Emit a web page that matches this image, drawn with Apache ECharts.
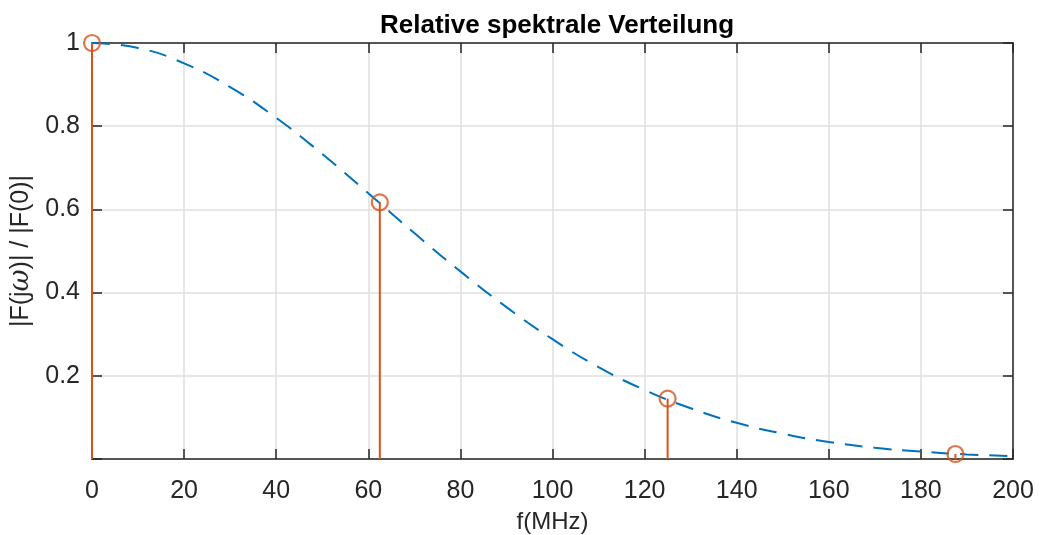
<!DOCTYPE html>
<html>
<head>
<meta charset="utf-8">
<script src="https://cdn.jsdelivr.net/npm/echarts@6/dist/echarts.min.js"></script>
<style>
html, body { margin: 0; padding: 0; background: #fff; }
#chart { width: 1040px; height: 535px; }
</style>
</head>
<body>
<div id="chart"></div>
<script>
// Frequenzen (MHz) und Werte der gestrichelten Kurve
var curveF = [0, 10, 20, 30, 40, 50, 60, 70, 80, 90, 100, 110, 120, 130, 140, 150, 160, 170, 180, 190, 200];
var curveV = [1.000, 0.988, 0.951, 0.894, 0.820, 0.733, 0.639, 0.543, 0.451, 0.365, 0.288, 0.221, 0.166, 0.122, 0.087, 0.061, 0.041, 0.027, 0.018, 0.011, 0.007];
// Spektrallinien (stem)
var stemF = [0, 62.5, 125, 187.5];
var stemV = [1.000, 0.617, 0.145, 0.012];
var yTicks = [0.2, 0.4, 0.6, 0.8, 1];

var chart = echarts.init(document.getElementById('chart'));

var curveData = [];
for (var i = 0; i < curveF.length; i++) {
	curveData.push([curveF[i], curveV[i]]);
}
var stemData = [];
for (var j = 0; j < stemF.length; j++) {
	stemData.push([stemF[j], stemV[j]]);
}

var axisColor = '#262626';
var font = 'Liberation Sans, Arial, Helvetica, sans-serif';
var tickStyle = { show: true, inside: true, length: 10, lineStyle: { color: axisColor, width: 1.5 } };
var lineStyleAxis = { show: true, onZero: false, lineStyle: { color: axisColor, width: 1.5 } };

var option = {
	animation: false,
	backgroundColor: '#fff',
	title: {
		text: 'Relative spektrale Verteilung',
		left: 552,
		textAlign: 'center',
		top: 8,
		textStyle: { fontFamily: font, fontSize: 26, fontWeight: 'bold', color: '#000' }
	},
	grid: { left: 92, right: 27, top: 43, bottom: 76, containLabel: false, outerBoundsMode: 'none' },
	xAxis: [{
		type: 'value',
		min: 0, max: 200, interval: 20,
		name: 'f(MHz)',
		nameLocation: 'middle',
		nameGap: 51,
		nameTextStyle: { fontFamily: font, fontSize: 24, color: axisColor },
		axisLine: lineStyleAxis,
		axisTick: tickStyle,
		axisLabel: { fontFamily: font, fontSize: 25, color: axisColor, margin: 20 },
		splitLine: { show: true, lineStyle: { color: '#dfdfdf', width: 1.5 } }
	}, {
		type: 'value', position: 'top',
		min: 0, max: 200, interval: 20,
		axisLine: lineStyleAxis,
		axisTick: tickStyle,
		axisLabel: { show: false },
		splitLine: { show: false }
	}],
	yAxis: [{
		type: 'value',
		min: 0, max: 1, interval: 0.2,
		name: '|F(j{i|ω})| / |F(0)|',
		nameLocation: 'middle',
		nameGap: 57,
		nameTextStyle: {
			fontFamily: font, fontSize: 25, color: axisColor,
			rich: { i: { fontFamily: 'DejaVu Serif, serif', fontStyle: 'italic', fontSize: 27, color: axisColor } }
		},
		axisLine: lineStyleAxis,
		axisTick: tickStyle,
		axisLabel: {
			fontFamily: font, fontSize: 25, color: axisColor, margin: 12,
			formatter: function (v) {
				for (var k = 0; k < yTicks.length; k++) {
					if (Math.abs(yTicks[k] - v) < 1e-9) return String(yTicks[k]);
				}
				return '';
			}
		},
		splitLine: { show: true, lineStyle: { color: '#dfdfdf', width: 1.5 } }
	}, {
		type: 'value', position: 'right',
		min: 0, max: 1, interval: 0.2,
		axisLine: lineStyleAxis,
		axisTick: tickStyle,
		axisLabel: { show: false },
		splitLine: { show: false }
	}],
	series: [{
		type: 'line',
		data: curveData,
		smooth: true,
		showSymbol: false,
		z: 2,
		lineStyle: { color: '#0072BD', width: 2, type: [18, 11] }
	}, {
		type: 'bar',
		data: stemData,
		barWidth: 2,
		clip: false,
		z: 3,
		itemStyle: { color: '#D95319' }
	}, {
		type: 'scatter',
		data: stemData,
		symbol: 'circle',
		symbolSize: 16,
		clip: false,
		z: 4,
		itemStyle: { color: 'rgba(0,0,0,0)', borderColor: '#D95319', borderWidth: 2.2 }
	}]
};
chart.setOption(option);
</script>
</body>
</html>
